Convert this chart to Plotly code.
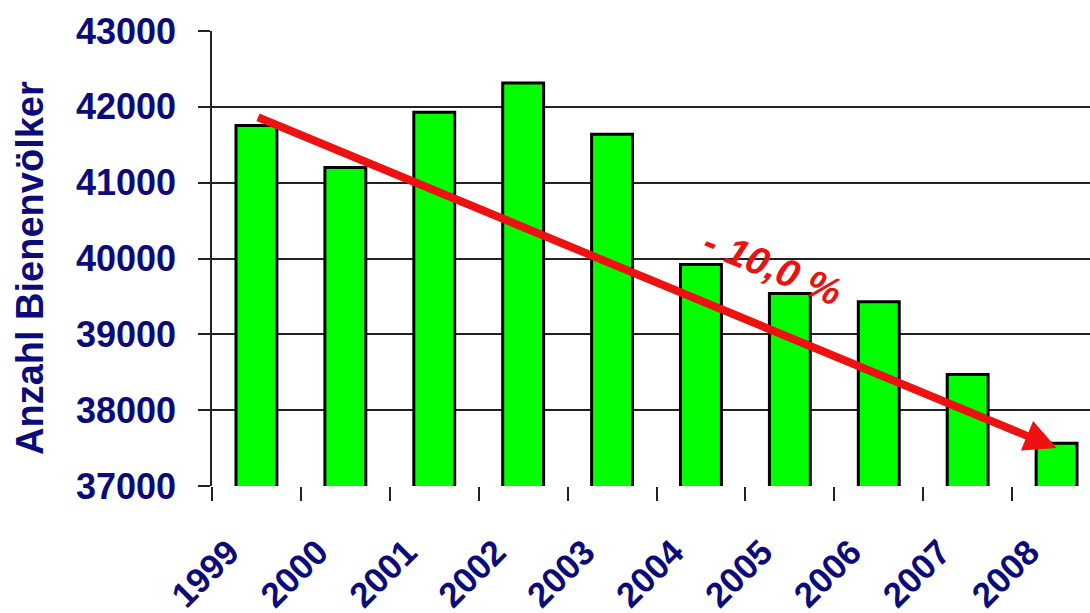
import plotly.graph_objects as go

years = ["1999", "2000", "2001", "2002", "2003", "2004", "2005", "2006", "2007", "2008"]
colonies = [41755, 41200, 41930, 42315, 41640, 39920, 39540, 39430, 38470, 37565]
y_ticks = [37000, 38000, 39000, 40000, 41000, 42000, 43000]
trend_start = 41870
trend_end = 37500
trend_label = "- 10,0 %"
y_title = "Anzahl Bienenvölker"

navy = "#0b0b7a"
red = "#ee1111"
pad = "\u00a0" * 4

fig = go.Figure()
fig.add_trace(go.Bar(
    x=years, y=colonies,
    marker=dict(color="#00ff00", line=dict(color="black", width=3)),
    width=0.46,
))

fig.add_annotation(
    x=len(years) - 1, y=trend_end, ax=0, ay=trend_start,
    xref="x", yref="y", axref="x", ayref="y",
    showarrow=True, arrowhead=2, arrowsize=0.8, arrowwidth=8,
    arrowcolor=red, standoff=0, text="",
)
fig.add_annotation(
    x=5.8, y=39890, xref="x", yref="y", text=trend_label, showarrow=False,
    textangle=22,
    font=dict(family="Liberation Sans", size=39, color=red, weight="bold", style="italic"),
)
# y-axis title placed as rotated text
fig.add_annotation(
    x=-(212 - 30) / 878, y=(486 - 268) / 455, xref="paper", yref="paper",
    text=y_title, showarrow=False, textangle=-90,
    xanchor="center", yanchor="middle",
    font=dict(family="Liberation Sans", size=38, color=navy, weight="bold"),
)

fig.update_layout(
    width=1090, height=613,
    margin=dict(l=212, r=0, t=31, b=127),
    paper_bgcolor="white", plot_bgcolor="white",
    showlegend=False,
    font=dict(family="Liberation Sans", color=navy),
)
fig.update_xaxes(
    type="category", range=[-0.5, 9.376],
    tickvals=years, ticktext=[y + pad for y in years],
    tickson="boundaries", ticks="outside", ticklen=14, tickcolor="#222", tickwidth=1.5,
    tickangle=-45, ticklabelstandoff=10,
    tickfont=dict(family="Liberation Sans", size=35, color=navy, weight="bold"),
    showgrid=False, showline=False, zeroline=False,
)
fig.update_yaxes(
    range=[37000, 43000], tickvals=y_ticks, ticktext=[str(v) for v in y_ticks],
    ticks="outside", ticklen=12, tickcolor="#222", tickwidth=1.5,
    ticklabelstandoff=15,
    tickfont=dict(family="Liberation Sans", size=36, color=navy, weight="bold"),
    showgrid=True, gridcolor="#222", gridwidth=1.5,
    showline=True, linecolor="#222", linewidth=1.5, zeroline=False,
    automargin=False,
)

fig.write_html("out.html")
